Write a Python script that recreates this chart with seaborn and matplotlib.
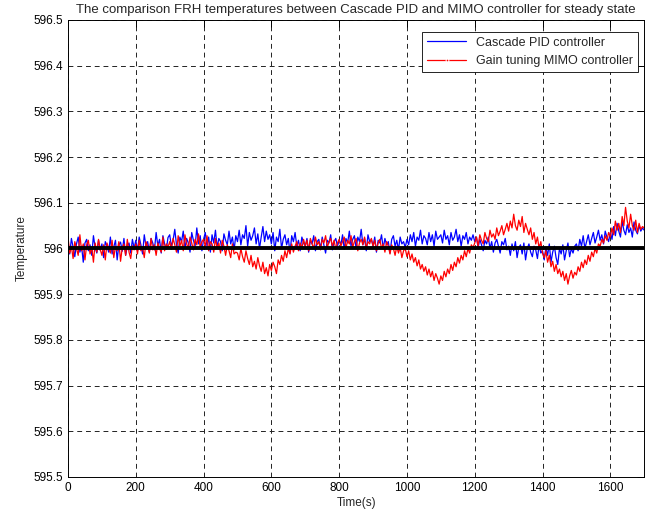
import numpy as np
import pandas as pd
import seaborn as sns
import matplotlib.pyplot as plt

# time axis, one reading every 5 s
time_s = list(range(0, 1701, 5))
setpoint = 596.0

# deviation from 596 in thousandths, 20 readings per 100 s
blue_mk = [15, -12, 22, 3, -18, 10, 25, -8, 5, -30, 12, 20, -5, 8, -15, 28, 2, -10, 18, -4,
           10, -20, 15, 5, -8, 25, -12, 3, 18, -25, 8, 14, -6, 22, -15, 5, 12, -10, 20, 0,
           18, -5, 25, 8, -12, 30, 5, 15, -8, 22, 12, -3, 35, 6, 20, -10, 28, 10, -2, 24,
           30, 5, 18, 42, 8, -10, 25, 15, 38, 0, 22, 12, -8, 35, 18, 5, 45, 10, 28, -5,
           20, 35, 5, 25, -8, 30, 12, 40, 2, 22, 15, -5, 32, 18, 8, 38, 10, 25, -3, 28,
           15, 40, 8, 30, 22, 50, 5, 35, 18, 28, 45, 10, 32, 0, 25, 48, 15, 38, 20, 30,
           10, 35, -5, 25, 15, 42, 0, 20, 30, 8, 22, -10, 28, 15, 35, 5, 18, -5, 25, 12,
           5, 22, -8, 18, 10, 28, -5, 15, 20, 0, 25, 8, -10, 18, 12, 30, -3, 15, 22, 5,
           18, 8, 30, -2, 22, 12, 38, 5, 20, 28, 0, 25, 15, 42, 8, 22, -5, 30, 15, 20,
           5, 25, -8, 18, 12, 30, 0, 22, 8, 15, -10, 20, 28, 5, 18, -3, 25, 10, 15, 2,
           20, 8, 30, 15, 35, 5, 25, 18, 40, 10, 28, 22, 8, 35, 15, 30, 5, 38, 20, 25,
           30, 12, 40, 20, 28, 8, 35, 18, 25, 42, 15, 30, 5, 28, 20, 35, 10, 25, 18, 30,
           15, 25, 2, 20, 8, -5, 18, 10, 25, 0, 15, -8, 12, 20, 5, -10, 15, 8, 22, -3,
           5, -15, 10, -5, 15, -20, 2, 8, -12, 12, -25, 0, 10, -8, -18, 5, -3, -22, 8, -10,
           -5, -25, 2, -15, 10, -30, -8, 5, -20, -35, 0, -12, 8, -25, -5, 12, -18, 0, -10, 5,
           10, -5, 20, 5, 28, 0, 15, 30, 8, 22, 35, 12, 25, 40, 18, 30, 10, 38, 25, 15,
           35, 20, 48, 28, 55, 38, 25, 60, 40, 30, 52, 35, 45, 25, 58, 40, 32, 50, 38, 45,
           40]

red_mk = [25, -10, 5, -22, 15, 0, -15, 30, -5, 10, -25, 8, 18, -12, 3, -30, 12, -8, 20, -2,
          -15, 8, -25, 12, 0, -10, 18, -20, 5, -5, 15, -28, 2, 10, -15, 20, -8, -22, 6, -3,
          10, -12, 18, -5, 2, -20, 15, 5, -10, 22, -3, 8, -15, 12, 0, -8, 25, -5, 10, 3,
          15, -2, 22, 8, -8, 28, 5, 18, -5, 30, 10, 0, 25, 12, -3, 20, 8, 32, 2, 15,
          20, 5, 28, -5, 15, 10, -8, 22, 0, 12, -10, 18, 5, -15, 8, -5, -20, 10, -12, -8,
          -10, -25, 0, -18, -30, -5, -22, -35, -15, -40, -28, -45, -20, -38, -50, -30, -55, -42, -60, -35,
          -48, -30, -40, -55, -25, -35, -15, -28, -5, -20, 0, -12, 10, -8, 5, 15, -5, 12, 0, 20,
          5, 18, -5, 22, 10, 0, 25, 8, 15, -3, 20, 12, 28, 2, 15, 22, 5, 18, -2, 12,
          20, 5, 15, 25, 0, 18, 10, 28, 3, 15, 22, -5, 12, 20, 8, 25, 0, 15, 10, 22,
          5, 18, -5, 12, 20, 0, 10, -8, 15, 5, -12, 8, 0, -15, 5, -10, 2, -20, -5, 0,
          -18, -5, -25, -12, -30, -20, -38, -25, -45, -35, -50, -40, -58, -45, -62, -50, -70, -55, -65, -78,
          -60, -70, -50, -62, -45, -55, -35, -48, -30, -40, -20, -32, -15, -25, -5, -18, 0, -10, 8, 2,
          12, 25, 5, 30, 18, 10, 35, 22, 15, 40, 25, 32, 20, 45, 28, 38, 50, 30, 42, 55,
          38, 60, 45, 75, 50, 40, 62, 48, 70, 35, 55, 42, 30, 45, 20, 35, 10, 25, 0, 15,
          -10, -20, -5, -30, -15, -40, -28, -50, -35, -55, -45, -62, -50, -70, -55, -78, -60, -48, -65, -52,
          -58, -40, -50, -30, -42, -25, -35, -15, -28, -8, -18, 0, -10, 10, 5, 20, 12, 28, 18, 35,
          25, 45, 30, 60, 40, 55, 35, 70, 50, 90, 60, 45, 75, 50, 40, 62, 35, 55, 42, 48,
          45]

xticks = [0, 200, 400, 600, 800, 1000, 1200, 1400, 1600]
yticks = [595.5, 595.6, 595.7, 595.8, 595.9, 596.0, 596.1, 596.2, 596.3, 596.4, 596.5]
ylabels = ['595.5', '595.6', '595.7', '595.8', '595.9', '596',
           '596.1', '596.2', '596.3', '596.4', '596.5']

df = pd.DataFrame({
    't': time_s,
    'pid': setpoint + np.array(blue_mk) / 1000.0,
    'mimo': setpoint + np.array(red_mk) / 1000.0,
})

sns.set_style("white")
plt.rcParams['font.family'] = ['Liberation Sans', 'DejaVu Sans']
plt.rcParams['font.size'] = 8

fig = plt.figure(figsize=(6.54, 5.15), dpi=100)
ax = fig.add_axes([0.104, 0.0738, 0.881, 0.8874])

sns.lineplot(data=df, x='t', y='pid', color='blue', lw=0.9,
             estimator=None, ax=ax, label='Cascade PID controller')
sns.lineplot(data=df, x='t', y='mimo', color='red', lw=0.9,
             estimator=None, ax=ax, label='Gain tuning MIMO controller')
ax.axhline(setpoint, color='black', lw=2.8, zorder=5)

ax.set_xlim(0, 1700)
ax.set_ylim(595.5, 596.5)
ax.set_xticks(xticks)
ax.set_yticks(yticks)
ax.set_yticklabels(ylabels)
ax.tick_params(direction='in', length=5, width=0.7, top=True, right=True,
               labelsize=8.5, colors='black', pad=3.5)
ax.grid(True, color='#222222', linestyle=(0, (5, 4)), lw=0.7)
for sp in ax.spines.values():
    sp.set_color('black')
    sp.set_linewidth(0.7)

ax.set_xlabel('Time(s)', fontsize=8.5, labelpad=2)
ax.set_ylabel('Temperature', fontsize=8.5, labelpad=4)
ax.set_title('The comparison FRH temperatures between Cascade PID and MIMO controller for steady state',
             fontsize=9.5, pad=5)

leg = ax.legend(loc='upper right', bbox_to_anchor=(0.9896, 0.974),
                borderaxespad=0, fontsize=9, frameon=True, fancybox=False,
                edgecolor='black', framealpha=1, handlelength=3.1,
                labelspacing=0.5)
leg.get_frame().set_linewidth(0.6)
red_handle = leg.legend_handles[1]
red_handle.set_marker('.')
red_handle.set_markersize(4)

fig.savefig('out.png', dpi=100)
